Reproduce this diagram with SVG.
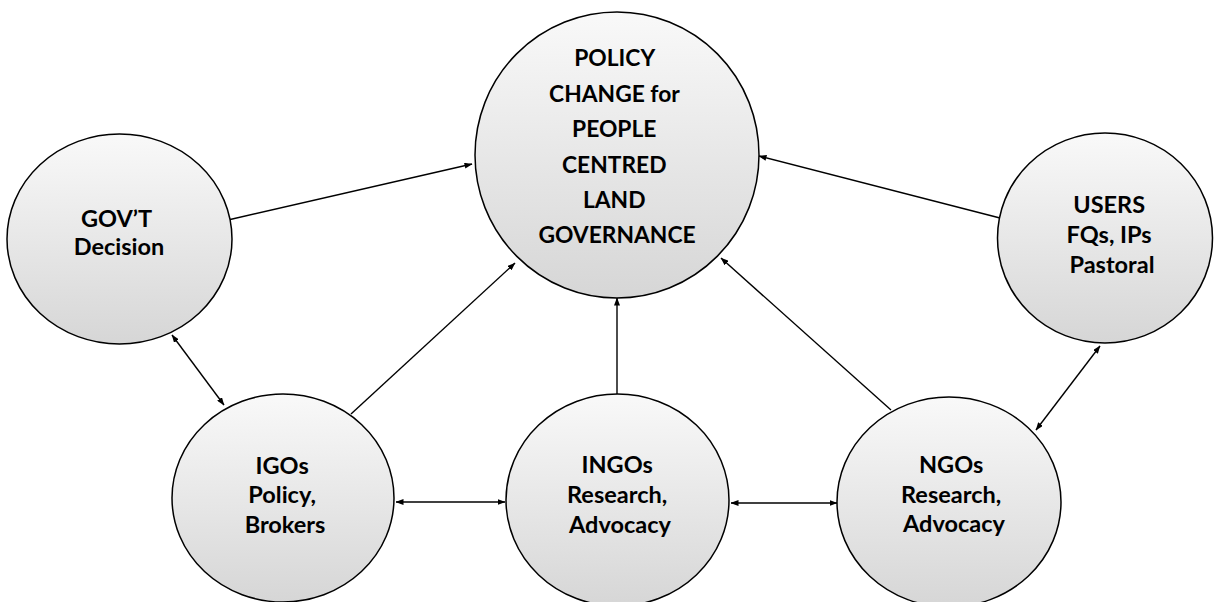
<svg xmlns="http://www.w3.org/2000/svg" width="1214" height="602" viewBox="0 0 1214 602">
  <style>
    .node { stroke: #000; stroke-width: 1.5; fill: url(#shade); }
    .label { font-family: Lato, "Liberation Sans", sans-serif; font-weight: 700; font-size: 23.5px; fill: #000; text-anchor: middle; }
    .big { font-size: 22.8px; }
    .link { stroke: #000; stroke-width: 1.4; fill: none; }
    .one { marker-end: url(#head); }
    .two { marker-start: url(#tail); marker-end: url(#head); }
  </style>
  <defs>
    <linearGradient id="shade" x1="0" y1="0" x2="0" y2="1">
      <stop offset="0" stop-color="#f9f9f9"/>
      <stop offset="1" stop-color="#d6d6d6"/>
    </linearGradient>
    <marker id="head" viewBox="0 0 8 6" refX="7.5" refY="3" markerWidth="8" markerHeight="6" markerUnits="userSpaceOnUse" orient="auto">
      <path d="M0,0 L8,3 L0,6 z" fill="#000"/>
    </marker>
    <marker id="tail" viewBox="0 0 8 6" refX="0.5" refY="3" markerWidth="8" markerHeight="6" markerUnits="userSpaceOnUse" orient="auto">
      <path d="M8,0 L0,3 L8,6 z" fill="#000"/>
    </marker>
  </defs>

  <!-- connectors -->
  <g id="connectors">
    <line class="link one" x1="228" y1="220" x2="472" y2="164"/>
    <line class="link one" x1="1000" y1="218" x2="759" y2="156"/>
    <line class="link one" x1="351" y1="414" x2="515" y2="263"/>
    <line class="link one" x1="617" y1="394" x2="617" y2="298"/>
    <line class="link one" x1="891" y1="410" x2="721" y2="258"/>
    <line class="link two" x1="172" y1="335" x2="224" y2="405"/>
    <line class="link two" x1="1100" y1="346" x2="1036" y2="430"/>
    <line class="link two" x1="396" y1="502" x2="505" y2="502"/>
    <line class="link two" x1="731" y1="503" x2="837" y2="503"/>
  </g>

  <!-- hub -->
  <g id="policy-change">
    <ellipse class="node" cx="617" cy="155" rx="142" ry="143"/>
    <text class="label big" x="617">
      <tspan x="617" y="66">POLICY</tspan>
      <tspan x="617" y="102">CHANGE for</tspan>
      <tspan x="617" y="137">PEOPLE</tspan>
      <tspan x="617" y="173">CENTRED</tspan>
      <tspan x="617" y="208">LAND</tspan>
      <tspan x="617" y="243">GOVERNANCE</tspan>
    </text>
  </g>

  <g id="govt">
    <ellipse class="node" cx="119.5" cy="239" rx="112.5" ry="105"/>
    <text class="label">
      <tspan x="119" y="227">GOV’T</tspan>
      <tspan x="119" y="255">Decision</tspan>
    </text>
  </g>

  <g id="users">
    <ellipse class="node" cx="1105" cy="238" rx="107.5" ry="105"/>
    <text class="label">
      <tspan x="1112" y="213">USERS</tspan>
      <tspan x="1112" y="243">FQs, IPs</tspan>
      <tspan x="1112" y="273">Pastoral</tspan>
    </text>
  </g>

  <g id="igos">
    <ellipse class="node" cx="283" cy="498" rx="111" ry="104"/>
    <text class="label">
      <tspan x="285" y="474">IGOs</tspan>
      <tspan x="285" y="503">Policy,</tspan>
      <tspan x="285" y="533">Brokers</tspan>
    </text>
  </g>

  <g id="ingos">
    <ellipse class="node" cx="617.5" cy="500" rx="111.5" ry="106"/>
    <text class="label">
      <tspan x="620" y="473">INGOs</tspan>
      <tspan x="620" y="503">Research,</tspan>
      <tspan x="620" y="533">Advocacy</tspan>
    </text>
  </g>

  <g id="ngos">
    <ellipse class="node" cx="949" cy="502" rx="112" ry="105"/>
    <text class="label">
      <tspan x="954" y="473">NGOs</tspan>
      <tspan x="954" y="503">Research,</tspan>
      <tspan x="954" y="532">Advocacy</tspan>
    </text>
  </g>
</svg>
